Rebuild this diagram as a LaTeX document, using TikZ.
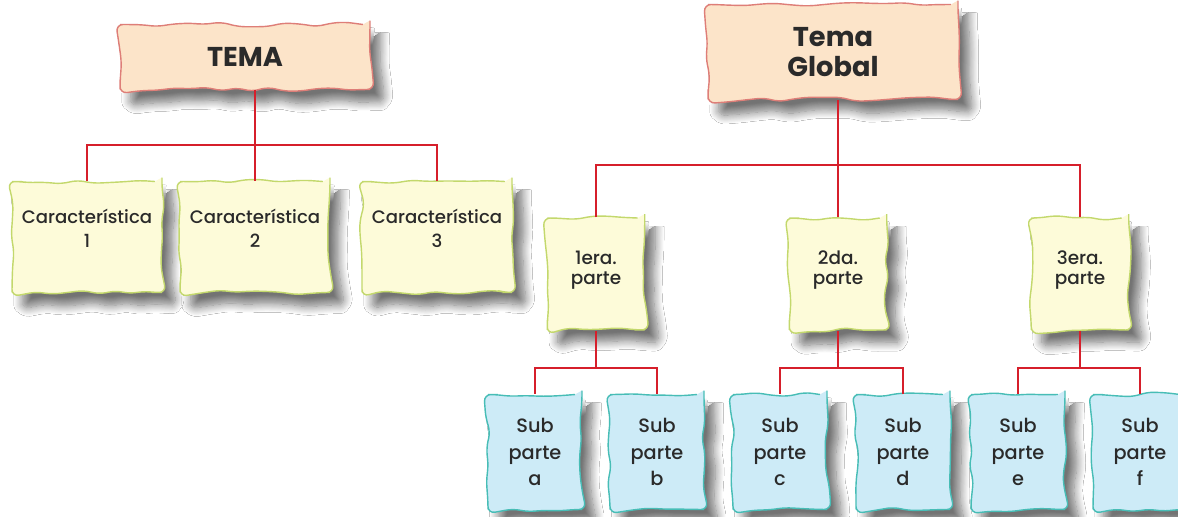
\documentclass[tikz,border=0pt]{standalone}
\usepackage{fontspec}
\setmainfont{Poppins}[UprightFont={* Medium}, BoldFont={* Bold}]
\usetikzlibrary{decorations.pathmorphing, shadows.blur, positioning}

\definecolor{peach}{HTML}{FCE4C9}
\definecolor{peachline}{HTML}{DE7E78}
\definecolor{cream}{HTML}{FDFBD9}
\definecolor{creamline}{HTML}{C3D86C}
\definecolor{skyfill}{HTML}{CDEBF7}
\definecolor{skyline}{HTML}{47BDB6}
\definecolor{redline}{HTML}{D61F2B}
\definecolor{txt}{HTML}{2A2A2A}

\tikzset{
  wavy/.style={decorate, decoration={random steps, segment length=9pt, amplitude=1.4pt},
    rounded corners=4pt, line width=0.8pt, text=txt, align=center,
    blur shadow={shadow xshift=6pt, shadow yshift=-7pt, shadow opacity=55,
      shadow blur radius=5pt, shadow blur steps=12}},
  topicbox/.style={wavy, draw=peachline, fill=peach, minimum width=5cm,
    font=\bfseries\fontsize{15.5}{17}\selectfont},
  featbox/.style={wavy, draw=creamline, fill=cream, minimum width=3cm, minimum height=2.22cm,
    font=\fontsize{10.3}{14}\selectfont},
  partbox/.style={wavy, draw=creamline, fill=cream, minimum width=1.95cm, minimum height=2.24cm,
    font=\fontsize{10.5}{11.5}\selectfont},
  subbox/.style={wavy, draw=skyline, fill=skyfill, minimum width=1.88cm, minimum height=2.3cm,
    font=\fontsize{11}{15}\selectfont},
  conn/.style={draw=redline, line width=1.2pt}
}

\begin{document}
\begin{tikzpicture}[x=0.02cm, y=-0.02cm]
\useasboundingbox[fill=white] (0,0) rectangle (1178,517);
% left tree
\node[topicbox, minimum height=1.3cm] (tema) at (245,57) {TEMA};
\node[featbox] (car1) at (87,237) {Característica\\1\\[-4pt]};
\node[featbox] (car2) at (255,237) {Característica\\2\\[-4pt]};
\node[featbox] (car3) at (437,237) {Característica\\3\\[-4pt]};
\coordinate (tj) at (car2 |- 0,145);
\draw[conn] (tj |- tema.south) -- (tj);
\draw[conn] (car1.north) |- (tj) -| (car3.north);
\draw[conn] (tj) -- (car2.north);
% right tree
\node[topicbox, minimum height=1.9cm] (global) at (833,52) {Tema\\Global};
\node[partbox] (p1) at (596,274) {1era.\\parte\\[-4.5pt]};
\node[partbox] (p2) at (838,274) {2da.\\parte\\[-4.5pt]};
\node[partbox] (p3) at (1080,274) {3era.\\parte\\[-4.5pt]};
\coordinate (gj) at (p2 |- 0,165);
\draw[conn] (gj |- global.south) -- (gj);
\draw[conn] (p1.north) |- (gj) -| (p3.north);
\draw[conn] (gj) -- (p2.north);
% sub parts
\node[subbox] (sa) at (535,452) {Sub\\parte\\a};
\node[subbox] (sb) at (657,452) {Sub\\parte\\b};
\node[subbox] (sc) at (780,452) {Sub\\parte\\c};
\node[subbox] (sd) at (903,452) {Sub\\parte\\d};
\node[subbox] (se) at (1018,452) {Sub\\parte\\e};
\node[subbox] (sf) at (1140,452) {Sub\\parte\\f};
\foreach \p/\l/\r in {p1/sa/sb, p2/sc/sd, p3/se/sf}{
  \coordinate (\p j) at (\p |- 0,368);
  \draw[conn] (\p.south) -- (\p j);
  \draw[conn] (\l.north) |- (\p j) -| (\r.north);
}
\end{tikzpicture}
\end{document}
